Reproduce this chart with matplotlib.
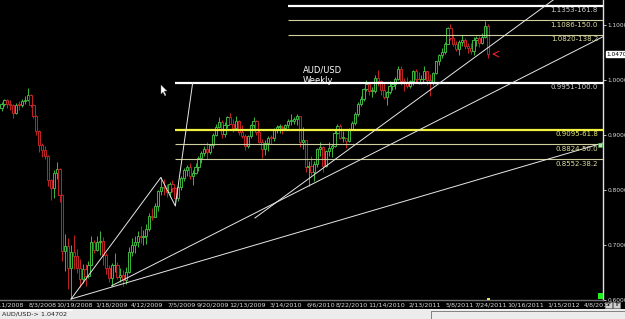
import numpy as np
import matplotlib
matplotlib.use("Agg")
import matplotlib.pyplot as plt
from matplotlib.patches import Rectangle, Polygon
from matplotlib import transforms

BG, UP, DN, INK = "#000000", "#3cb83c", "#c42424", "#d8d8d8"
KHAKI, YEL = "#cfcfa0", "#f2f240"

# weekly AUD/USD, first bar = week of 5/11/2008
first_open = 0.9480
close = [0.9560, 0.9640, 0.9560, 0.9550, 0.9390, 0.9550, 0.9540, 0.9610, 0.9640, 0.9730,
         0.9540, 0.9350, 0.9060, 0.8820, 0.8720, 0.8620, 0.8180, 0.8030, 0.8300, 0.8380,
         0.7900, 0.6880, 0.6970, 0.6570, 0.6860, 0.6800, 0.6580, 0.6370, 0.6560, 0.6430,
         0.6620, 0.7050, 0.6910, 0.7050, 0.7060, 0.6810, 0.6580, 0.6400, 0.6620, 0.6620,
         0.6410, 0.6450, 0.6360, 0.6510, 0.6870, 0.7000, 0.7050, 0.7150, 0.7130, 0.7160,
         0.7280, 0.7520, 0.7510, 0.7700, 0.7980, 0.8050, 0.8030, 0.7960, 0.8100, 0.8030,
         0.7850, 0.8040, 0.8220, 0.8360, 0.8410, 0.8250, 0.8310, 0.8420, 0.8570, 0.8660,
         0.8750, 0.8680, 0.8820, 0.8990, 0.9150, 0.9230, 0.9010, 0.9180, 0.9320, 0.9200,
         0.9130, 0.9250, 0.9050, 0.8980, 0.8790, 0.8970, 0.9170, 0.9250, 0.9050, 0.8870,
         0.8750, 0.8850, 0.8950, 0.8940, 0.9100, 0.9140, 0.9150, 0.9120, 0.9170, 0.9260,
         0.9260, 0.9290, 0.9340, 0.8870, 0.8900, 0.8420, 0.8430, 0.8320, 0.8460, 0.8750,
         0.8770, 0.8440, 0.8700, 0.8760, 0.8790, 0.9040, 0.9160, 0.8940, 0.8940, 0.8880,
         0.9100, 0.9220, 0.9380, 0.9560, 0.9650, 0.9840, 0.9920, 0.9800, 0.9800, 1.0040,
         0.9980, 0.9810, 0.9680, 0.9780, 0.9890, 0.9930, 1.0020, 1.0200, 0.9980, 0.9950,
         0.9890, 0.9980, 1.0160, 1.0010, 0.9960, 1.0010, 1.0160, 0.9990, 0.9940, 1.0130,
         1.0340, 1.0450, 1.0500, 1.0660, 1.0950, 1.0770, 1.0660, 1.0560, 1.0690, 1.0730,
         1.0610, 1.0580, 1.0520, 1.0730, 1.0760, 1.0680, 1.0780, 1.0980, 1.0470]
high = [0.9600, 0.9660, 0.9650, 0.9640, 0.9560, 0.9580, 0.9610, 0.9660, 0.9700, 0.9849,
        0.9750, 0.9560, 0.9360, 0.9080, 0.8850, 0.8800, 0.8630, 0.8200, 0.8350, 0.8500,
        0.8400, 0.7920, 0.7190, 0.7120, 0.7000, 0.7170, 0.6920, 0.6730, 0.6640, 0.6640,
        0.6700, 0.7160, 0.7080, 0.7160, 0.7240, 0.7140, 0.6850, 0.6620, 0.6660, 0.6840,
        0.6690, 0.6580, 0.6530, 0.6600, 0.6960, 0.7120, 0.7160, 0.7250, 0.7340, 0.7260,
        0.7370, 0.7580, 0.7660, 0.7760, 0.8000, 0.8223, 0.8190, 0.8100, 0.8140, 0.8180,
        0.8040, 0.8090, 0.8250, 0.8390, 0.8450, 0.8480, 0.8360, 0.8480, 0.8620, 0.8700,
        0.8800, 0.8860, 0.8840, 0.9030, 0.9200, 0.9330, 0.9270, 0.9240, 0.9350, 0.9406,
        0.9290, 0.9340, 0.9270, 0.9170, 0.9020, 0.8990, 0.9190, 0.9330, 0.9270, 0.9090,
        0.8920, 0.8900, 0.8980, 0.9000, 0.9120, 0.9180, 0.9200, 0.9170, 0.9200, 0.9290,
        0.9370, 0.9330, 0.9375, 0.9340, 0.9140, 0.8900, 0.8520, 0.8620, 0.8520, 0.8760,
        0.8860, 0.8800, 0.8720, 0.8860, 0.8830, 0.9080, 0.9200, 0.9190, 0.9060, 0.8950,
        0.9120, 0.9250, 0.9420, 0.9600, 0.9700, 0.9860, 0.9990, 0.9940, 0.9870, 1.0090,
        1.0180, 1.0000, 0.9950, 0.9800, 0.9980, 0.9970, 1.0050, 1.0260, 1.0250, 1.0030,
        1.0050, 1.0000, 1.0180, 1.0200, 1.0140, 1.0080, 1.0250, 1.0170, 1.0100, 1.0140,
        1.0350, 1.0470, 1.0580, 1.0690, 1.0970, 1.1012, 1.0830, 1.0710, 1.0720, 1.0810,
        1.0770, 1.0680, 1.0680, 1.0790, 1.0800, 1.0800, 1.0850, 1.1080, 1.1020]
low = [0.9430, 0.9530, 0.9490, 0.9460, 0.9310, 0.9380, 0.9460, 0.9500, 0.9560, 0.9620,
       0.9500, 0.9300, 0.9000, 0.8680, 0.8600, 0.8560, 0.8060, 0.7820, 0.7840, 0.8200,
       0.7770, 0.6700, 0.6520, 0.6200, 0.6009, 0.6560, 0.6480, 0.6230, 0.6300, 0.6250,
       0.6400, 0.6620, 0.6850, 0.6880, 0.6810, 0.6630, 0.6470, 0.6320, 0.6250, 0.6500,
       0.6370, 0.6320, 0.6250, 0.6290, 0.6480, 0.6800, 0.6850, 0.6950, 0.7030, 0.7000,
       0.7020, 0.7240, 0.7450, 0.7500, 0.7620, 0.7900, 0.7900, 0.7860, 0.7860, 0.7960,
       0.7705, 0.7800, 0.8000, 0.8150, 0.8250, 0.8200, 0.8080, 0.8280, 0.8340, 0.8490,
       0.8620, 0.8560, 0.8650, 0.8760, 0.8980, 0.9120, 0.8940, 0.8960, 0.9130, 0.9190,
       0.9050, 0.9080, 0.9000, 0.8950, 0.8720, 0.8760, 0.8950, 0.9130, 0.8990, 0.8850,
       0.8580, 0.8630, 0.8700, 0.8840, 0.8880, 0.9040, 0.9040, 0.9010, 0.9080, 0.9120,
       0.9180, 0.9200, 0.9170, 0.8770, 0.8740, 0.8320, 0.8067, 0.8260, 0.8160, 0.8420,
       0.8620, 0.8320, 0.8420, 0.8620, 0.8600, 0.8770, 0.9020, 0.8930, 0.8860, 0.8760,
       0.8870, 0.9080, 0.9180, 0.9350, 0.9530, 0.9610, 0.9800, 0.9730, 0.9690, 0.9760,
       0.9880, 0.9720, 0.9660, 0.9550, 0.9750, 0.9820, 0.9840, 1.0000, 0.9900, 0.9800,
       0.9850, 0.9850, 0.9900, 0.9950, 0.9920, 0.9920, 1.0020, 0.9900, 0.9706, 0.9900,
       1.0110, 1.0280, 1.0390, 1.0480, 1.0650, 1.0730, 1.0610, 1.0530, 1.0450, 1.0620,
       1.0560, 1.0490, 1.0480, 1.0460, 1.0620, 1.0590, 1.0660, 1.0760, 1.0400]

date_weeks = [0, 12, 23, 36, 48, 60, 71, 83, 96, 108, 119, 131, 144, 156, 167, 179, 192, 204]
date_labels = ["5/11/2008", "8/3/2008", "10/19/2008", "1/18/2009", "4/12/2009", "7/5/2009",
               "9/20/2009", "12/13/2009", "3/14/2010", "6/6/2010", "8/22/2010", "11/14/2010",
               "2/13/2011", "5/8/2011", "7/24/2011", "10/16/2011", "1/15/2012", "4/8/2012"]
price_ticks = [0.6, 0.7, 0.8, 0.9, 1.0, 1.1]

# fibonacci extension levels: price, ratio, start week
fib_price = [1.1353, 1.1086, 1.0820, 0.9951, 0.9095, 0.8824, 0.8552]
fib_ratio = [161.8, 150.0, 138.2, 100.0, 61.8, 50.0, 38.2]
fib_start = [99, 99, 99, 60, 60, 60, 60]
fib_color = ["white", KHAKI, KHAKI, "white", YEL, KHAKI, KHAKI]
fib_lw = [1.6, 0.8, 0.8, 1.6, 1.6, 0.8, 0.8]
fib_text = ["#d0d0d0", "#e0e09a", "#e0e09a", "#d0d0d0", "#e8e870", "#e0e09a", "#e0e09a"]

# A-B-C swing used by the extension, then run up to the 100% level
zig_w = [24, 55, 60, 66]
zig_p = [0.6009, 0.8223, 0.7705, 0.9951]
# trend lines: (start week, start price, end week, end price)
trend = [(24, 0.6009, 207.7, 0.8851),
         (38, 0.6250, 207.7, 1.0786),
         (87.5, 0.7485, 190.5, 1.1455)]
last_price = 1.0470

XMIN, XMAX, YMIN, YMAX = -0.55, 207.7, 0.5991, 1.1455

fig = plt.figure(figsize=(6.25, 3.19), dpi=100, facecolor=BG)
ax = fig.add_axes([0, 19/319, 603/625, 300/319], facecolor=BG)

opens = [first_open] + close[:-1]
for w, (o, c, h, l) in enumerate(zip(opens, close, high, low)):
    col = UP if c >= o else DN
    ax.vlines(w, l, h, color=col, lw=0.7, zorder=2)
    ax.add_patch(Rectangle((w - 0.38, min(o, c)), 0.76, max(abs(c - o), 0.0015),
                           facecolor=BG, edgecolor=col, lw=0.7, zorder=3))

for p, s, col, lw in zip(fib_price, fib_start, fib_color, fib_lw):
    ax.plot([s, XMAX], [p, p], color=col, lw=lw, zorder=4, solid_capstyle="butt")
lbl = transforms.blended_transform_factory(ax.transAxes, ax.transData)
for p, r, tc in zip(fib_price, fib_ratio, fib_text):
    ax.text(0.9917, p - 0.0025, f"{p:.4f}-{r:.1f}", transform=lbl, ha="right", va="top",
            fontsize=5, color=tc, zorder=6)

ax.plot(zig_w, zig_p, color="#e8e8e8", lw=0.7, zorder=5)
for w0, p0, w1, p1 in trend:
    ax.plot([w0, w1], [p0, p1], color="#e8e8e8", lw=0.7, zorder=5)

ax.annotate("", xy=(len(close) - 0.6, last_price), xytext=(len(close) + 2.4, last_price),
            arrowprops=dict(arrowstyle="->", color="#e02020", lw=0.8), zorder=6)
ax.text(104, 1.0085, "AUD/USD\nWeekly", color="white", fontsize=6, va="center",
        ha="left", linespacing=1.1)

# mouse pointer left on the chart
px = lambda x, y: (x / 603, 1 - y / 300)
ax.add_patch(Polygon([px(161, 85), px(161, 94), px(163, 92), px(165, 96), px(166, 95),
                      px(164, 91), px(167, 91)], closed=True, facecolor="white",
                     edgecolor="#888888", lw=0.3, transform=ax.transAxes, zorder=7))
ax.add_patch(Rectangle(px(597.5, 299), 5 / 603, 6 / 300, transform=ax.transAxes,
                       facecolor="#22ee22", edgecolor="none", zorder=7, clip_on=False))
ax.add_patch(Rectangle(px(597.5, 146.5), 4 / 603, 4 / 300, transform=ax.transAxes,
                       facecolor="#b8e0b8", edgecolor="#40a040", lw=0.4, zorder=7))

ax.set_xlim(XMIN, XMAX)
ax.set_ylim(YMIN, YMAX)
for s in ["top", "left"]:
    ax.spines[s].set_visible(False)
ax.spines["right"].set_color("#e0e0e0")
ax.spines["right"].set_linewidth(1.0)
ax.spines["bottom"].set_color("#707070")
ax.spines["bottom"].set_linewidth(1.0)

ax.set_xticks(date_weeks)
ax.set_xticklabels(date_labels, fontsize=4.6, color=INK)
ax.tick_params(axis="x", length=0, pad=1.5)
shift = transforms.ScaledTranslation(6 / 100, 0, fig.dpi_scale_trans)
for t in ax.get_xticklabels():
    t.set_transform(t.get_transform() + shift)

ax.yaxis.tick_right()
ax.set_yticks(price_ticks)
ax.set_yticklabels([f"{v:.4f}" for v in price_ticks], fontsize=4.2, color=INK)
ax.tick_params(axis="y", length=2, width=0.6, color="#e0e0e0", pad=1.2)
ax.text(1.006, last_price, f"{last_price:.4f}", transform=lbl, ha="left", va="center",
        fontsize=4.2, color="black", clip_on=False,
        bbox=dict(boxstyle="square,pad=0.12", facecolor="white", edgecolor="white"))
ax.add_patch(Rectangle((len(close) - 1.5, YMIN), 1.2, 0.004, facecolor="#f0e060",
                       edgecolor="none", clip_on=False, zorder=8))

sb = fig.add_axes([0, 0, 1, 10 / 319], facecolor="#ececec")
sb.set_xticks([])
sb.set_yticks([])
for s in sb.spines.values():
    s.set_visible(False)
sb.plot([0, 0.115], [0.95, 0.95], color="white", lw=1.2)
sb.plot([0.69, 0.69, 1], [0.0, 0.85, 0.85], color="#707070", lw=0.6)
sb.set_xlim(0, 1)
sb.set_ylim(0, 1)
sb.text(0.003, 0.45, "AUD/USD-> 1.04702", fontsize=4.6, color="#202020", va="center")

for xs, tx in [(0.9735, "SF"), (0.9865, "TF")]:
    fig.text(xs, 14 / 319, tx, fontsize=3.6, color="black", ha="center", va="center",
             bbox=dict(boxstyle="square,pad=0.08", facecolor="#d0d0d0", edgecolor="#909090", lw=0.4))

fig.savefig("out.png", dpi=100, facecolor=BG)
